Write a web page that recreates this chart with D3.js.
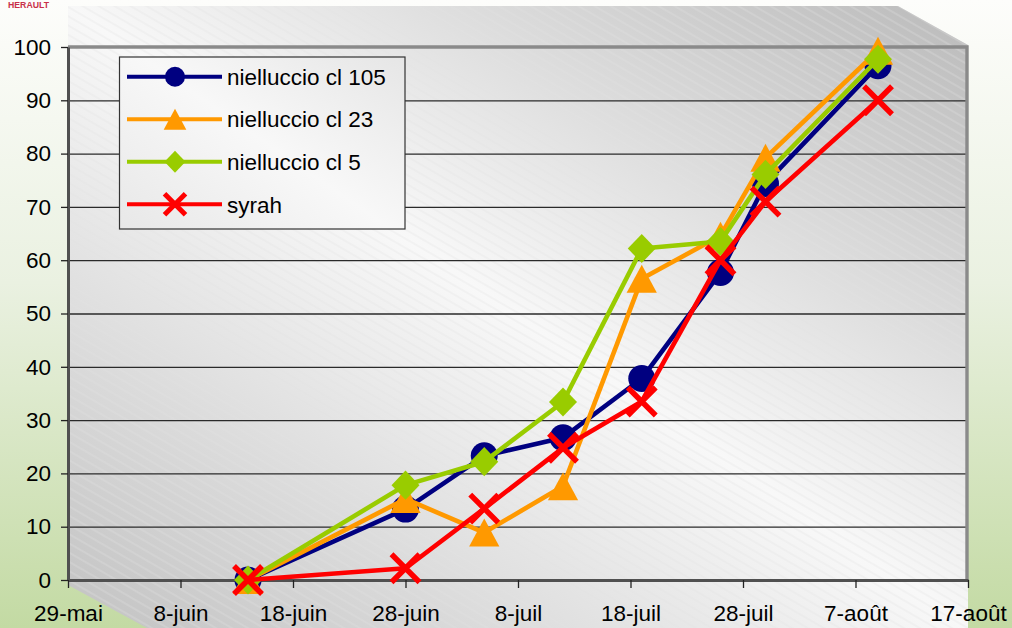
<!DOCTYPE html>
<html>
<head>
<meta charset="utf-8">
<script src="https://cdn.jsdelivr.net/npm/d3@7"></script>
<style>
  html, body { margin: 0; padding: 0; background: #fff; }
  svg { display: block; font-family: "Liberation Sans", Arial, sans-serif; }
</style>
</head>
<body>
<svg id="chart" width="1012" height="628"></svg>
<script>
// Sampling dates and percentages per variety
const sampleDates = ["2008-06-14", "2008-06-28", "2008-07-05", "2008-07-12", "2008-07-19", "2008-07-26", "2008-07-30", "2008-08-09"];
const nielluccio105 = [0, 13.3, 23.3, 26.7, 37.8, 57.7, 74.4, 96.5];
const nielluccio23  = [0, 15.2, 8.9, 17.6, 56.5, 64.6, 79.2, 99.3];
const nielluccio5   = [0, 17.8, 22.2, 33.4, 62.2, 63.5, 76.1, 97.7];
const syrah         = [0, 2.2, 13.4, 24.8, 33.5, 60.0, 71.0, 90.0];
const seriesNames   = ["nielluccio cl 105", "nielluccio cl 23", "nielluccio cl 5", "syrah"];

// Axis ticks
const xTickDates  = ["2008-05-29", "2008-06-08", "2008-06-18", "2008-06-28", "2008-07-08", "2008-07-18", "2008-07-28", "2008-08-07", "2008-08-17"];
const xTickLabels = ["29-mai", "8-juin", "18-juin", "28-juin", "8-juil", "18-juil", "28-juil", "7-août", "17-août"];
const yTicks      = [0, 10, 20, 30, 40, 50, 60, 70, 80, 90, 100];

const parse = d3.timeParse("%Y-%m-%d");
const W = 1012, H = 628;
const plot = { left: 68, right: 968, top: 47, bottom: 580 };

const x = d3.scaleTime()
  .domain([parse(xTickDates[0]), parse(xTickDates[xTickDates.length - 1])])
  .range([plot.left, plot.right]);
const y = d3.scaleLinear().domain([0, 100]).range([plot.bottom, plot.top]);

const styles = [
  { color: "#000080", marker: "circle" },
  { color: "#FF9900", marker: "triangle" },
  { color: "#99CC00", marker: "diamond" },
  { color: "#FF0000", marker: "cross" }
];
const values = [nielluccio105, nielluccio23, nielluccio5, syrah];
const series = seriesNames.map((name, i) => ({
  name,
  style: styles[i],
  points: sampleDates.map((d, j) => ({ date: parse(d), value: values[i][j] }))
}));

const svg = d3.select("#chart");
const defs = svg.append("defs");

// Page background: white at the top fading to pale green
const bg = defs.append("linearGradient").attr("id", "pageBg")
  .attr("x1", 0).attr("y1", 0).attr("x2", 0).attr("y2", 1);
bg.append("stop").attr("offset", 0).attr("stop-color", "#fdfdfb");
bg.append("stop").attr("offset", 0.45).attr("stop-color", "#eaf1e1");
bg.append("stop").attr("offset", 1).attr("stop-color", "#c3daa3");

// Wall gradient: grey corners, light diagonal band
const wall = defs.append("linearGradient").attr("id", "wallFill")
  .attr("gradientUnits", "userSpaceOnUse")
  .attr("x1", 227).attr("y1", 738).attr("x2", 809).attr("y2", -104);
wall.append("stop").attr("offset", 0).attr("stop-color", "#c2c2c2");
wall.append("stop").attr("offset", 0.5).attr("stop-color", "#f8f8f8");
wall.append("stop").attr("offset", 1).attr("stop-color", "#bababa");

// Fine diagonal hatching over the wall
const hatch = defs.append("pattern").attr("id", "hatch")
  .attr("patternUnits", "userSpaceOnUse")
  .attr("width", 8).attr("height", 8)
  .attr("patternTransform", "rotate(30)");
hatch.append("line").attr("x1", 0).attr("y1", 4).attr("x2", 8).attr("y2", 4)
  .attr("stroke", "#e2e2e2").attr("stroke-opacity", 0.55).attr("stroke-width", 1);

svg.append("rect").attr("width", W).attr("height", H).attr("fill", "url(#pageBg)");

// Wall outline with the receding top-right edge and lower-left wedge
const wallPts = [[68, 6], [898, 6], [968, 45], [968, H], [147, H], [68, 585]];
const wallPath = "M" + wallPts.map(p => p.join(",")).join("L") + "Z";
svg.append("path").attr("d", wallPath).attr("fill", "url(#wallFill)");
svg.append("path").attr("d", wallPath).attr("fill", "url(#hatch)");

// Header mark
svg.append("text")
  .attr("x", 8).attr("y", 8)
  .attr("textLength", 41).attr("lengthAdjust", "spacingAndGlyphs")
  .attr("font-size", 9).attr("font-weight", "bold")
  .attr("fill", "#c8304a")
  .text("HERAULT");

// Horizontal gridlines
svg.append("g")
  .attr("transform", `translate(${plot.left},0)`)
  .call(d3.axisLeft(y).tickValues(yTicks.filter(v => v > 0 && v < 100))
    .tickSize(-(plot.right - plot.left)).tickFormat(""))
  .call(g => g.select(".domain").remove())
  .call(g => g.selectAll("line").attr("stroke", "#2a2a2a").attr("stroke-width", 1.3));

// Plot frame: grey top and right edges
svg.append("path")
  .attr("d", `M${plot.left},${plot.top}H${plot.right - 1}V${plot.bottom + 1}`)
  .attr("fill", "none").attr("stroke", "#8a8a8a").attr("stroke-width", 3.4);

// Y axis
const fontSize = 22.5;
svg.append("g")
  .attr("transform", `translate(${plot.left},0)`)
  .call(d3.axisLeft(y).tickValues(yTicks).tickSize(7).tickSizeOuter(0).tickPadding(10))
  .call(g => g.select(".domain").attr("stroke", "#505050").attr("stroke-width", 3))
  .call(g => g.selectAll(".tick line").attr("stroke", "#222").attr("stroke-width", 1.3))
  .call(g => g.selectAll("text").attr("font-size", fontSize).attr("fill", "#000")
    .attr("font-family", '"Liberation Sans", Arial, sans-serif'));

// X axis
svg.append("g")
  .attr("transform", `translate(0,${plot.bottom})`)
  .call(d3.axisBottom(x).tickValues(xTickDates.map(parse))
    .tickFormat((d, i) => xTickLabels[i]).tickSize(8).tickSizeOuter(0).tickPadding(17))
  .call(g => g.select(".domain").attr("stroke", "#505050").attr("stroke-width", 3))
  .call(g => g.selectAll(".tick line").attr("stroke", "#222").attr("stroke-width", 1.3))
  .call(g => g.selectAll("text").attr("font-size", fontSize).attr("fill", "#000")
    .attr("font-family", '"Liberation Sans", Arial, sans-serif'));

// Marker shapes (size = bounding box width)
function markerPath(type, s) {
  const h = s / 2;
  switch (type) {
    case "circle":
      return `M${-h},0A${h},${h} 0 1,0 ${h},0A${h},${h} 0 1,0 ${-h},0Z`;
    case "triangle":
      return `M0,${-h}L${h * 1.08},${h}L${-h * 1.08},${h}Z`;
    case "diamond":
      return `M0,${-h * 1.04}L${h},0L0,${h * 1.04}L${-h},0Z`;
    case "cross":
      return `M${-h},${-h}L${h},${h}M${-h},${h}L${h},${-h}`;
  }
}

function drawMarker(sel, style, s, crossWidth) {
  const p = sel.append("path").attr("d", markerPath(style.marker, s));
  if (style.marker === "cross") {
    p.attr("fill", "none").attr("stroke", style.color).attr("stroke-width", crossWidth);
  } else {
    p.attr("fill", style.color);
  }
}

const line = d3.line().x(d => x(d.date)).y(d => y(d.value));

// Series: line then markers, drawn in legend order
series.forEach(s => {
  const g = svg.append("g");
  g.append("path")
    .attr("d", line(s.points))
    .attr("fill", "none")
    .attr("stroke", s.style.color)
    .attr("stroke-width", 4.6)
    .attr("stroke-linejoin", "round");
  s.points.forEach(p => {
    const m = g.append("g").attr("transform", `translate(${x(p.date)},${y(p.value)})`);
    drawMarker(m, s.style, s.style.marker === "circle" ? 27 : 28, 5.5);
  });
});

// Legend
const legend = svg.append("g");
legend.append("rect")
  .attr("x", 119.5).attr("y", 57).attr("width", 285.5).attr("height", 172)
  .attr("fill", "url(#wallFill)")
  .attr("stroke", "#333").attr("stroke-width", 1.2);
const rowY = d3.scaleLinear().domain([0, 3]).range([76.7, 204.3]);
series.forEach((s, i) => {
  const ry = rowY(i);
  legend.append("line")
    .attr("x1", 127).attr("x2", 222).attr("y1", ry).attr("y2", ry)
    .attr("stroke", s.style.color).attr("stroke-width", 4);
  const m = legend.append("g").attr("transform", `translate(175,${ry})`);
  drawMarker(m, s.style, s.style.marker === "circle" ? 20 : 21, 5);
  legend.append("text")
    .attr("x", 227).attr("y", ry + 8.2)
    .attr("font-size", fontSize).attr("fill", "#000")
    .text(s.name);
});
</script>
</body>
</html>
